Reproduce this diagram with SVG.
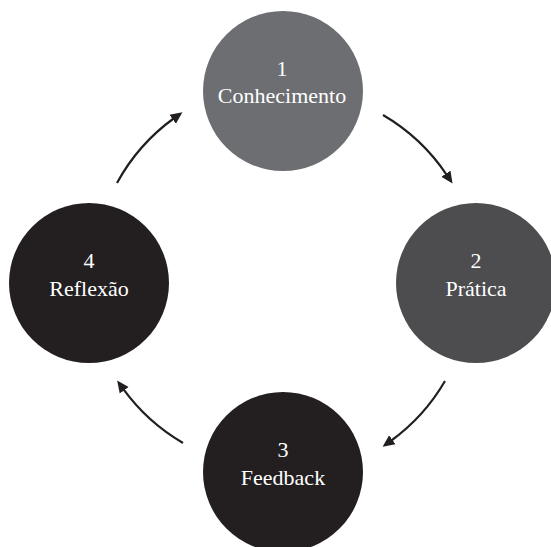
<svg xmlns="http://www.w3.org/2000/svg" width="551" height="547" viewBox="0 0 551 547">
  <style>
    .lbl { font-family: "Liberation Serif", "Times New Roman", serif; font-size: 22px; fill: #ffffff; text-anchor: middle; }
    .conn { fill: none; stroke: #231f20; stroke-width: 2.2; }
  </style>
  <defs>
    <marker id="ah" markerUnits="userSpaceOnUse" markerWidth="14" markerHeight="12" viewBox="0 -6 14 12" refX="2" refY="0" orient="auto">
      <path d="M0,-5.5 L12,0 L0,5.5 Z" fill="#231f20"/>
    </marker>
  </defs>
  <rect width="551" height="547" fill="#ffffff"/>
  <g id="node1">
    <circle cx="283" cy="91" r="80" fill="#6d6e71"/>
    <text class="lbl" x="282" y="76">1</text>
    <text class="lbl" x="282" y="103">Conhecimento</text>
  </g>
  <g id="node2">
    <circle cx="476" cy="283" r="80" fill="#4d4d4f"/>
    <text class="lbl" x="476" y="268">2</text>
    <text class="lbl" x="476" y="296">Prática</text>
  </g>
  <g id="node3">
    <circle cx="283" cy="472" r="80" fill="#231f20"/>
    <text class="lbl" x="283" y="457">3</text>
    <text class="lbl" x="283" y="485">Feedback</text>
  </g>
  <g id="node4">
    <circle cx="89" cy="283" r="80" fill="#231f20"/>
    <text class="lbl" x="89" y="268">4</text>
    <text class="lbl" x="89" y="296">Reflexão</text>
  </g>
  <g id="connectors">
    <path class="conn" d="M117,183 A195,195 0 0 1 174.3,118" marker-end="url(#ah)"/>
    <path class="conn" d="M383,115 A195,195 0 0 1 447,175.3" marker-end="url(#ah)"/>
    <path class="conn" d="M445,381 A195,195 0 0 1 390.7,441" marker-end="url(#ah)"/>
    <path class="conn" d="M183,443 A195,195 0 0 1 123,388.7" marker-end="url(#ah)"/>
  </g>
</svg>
